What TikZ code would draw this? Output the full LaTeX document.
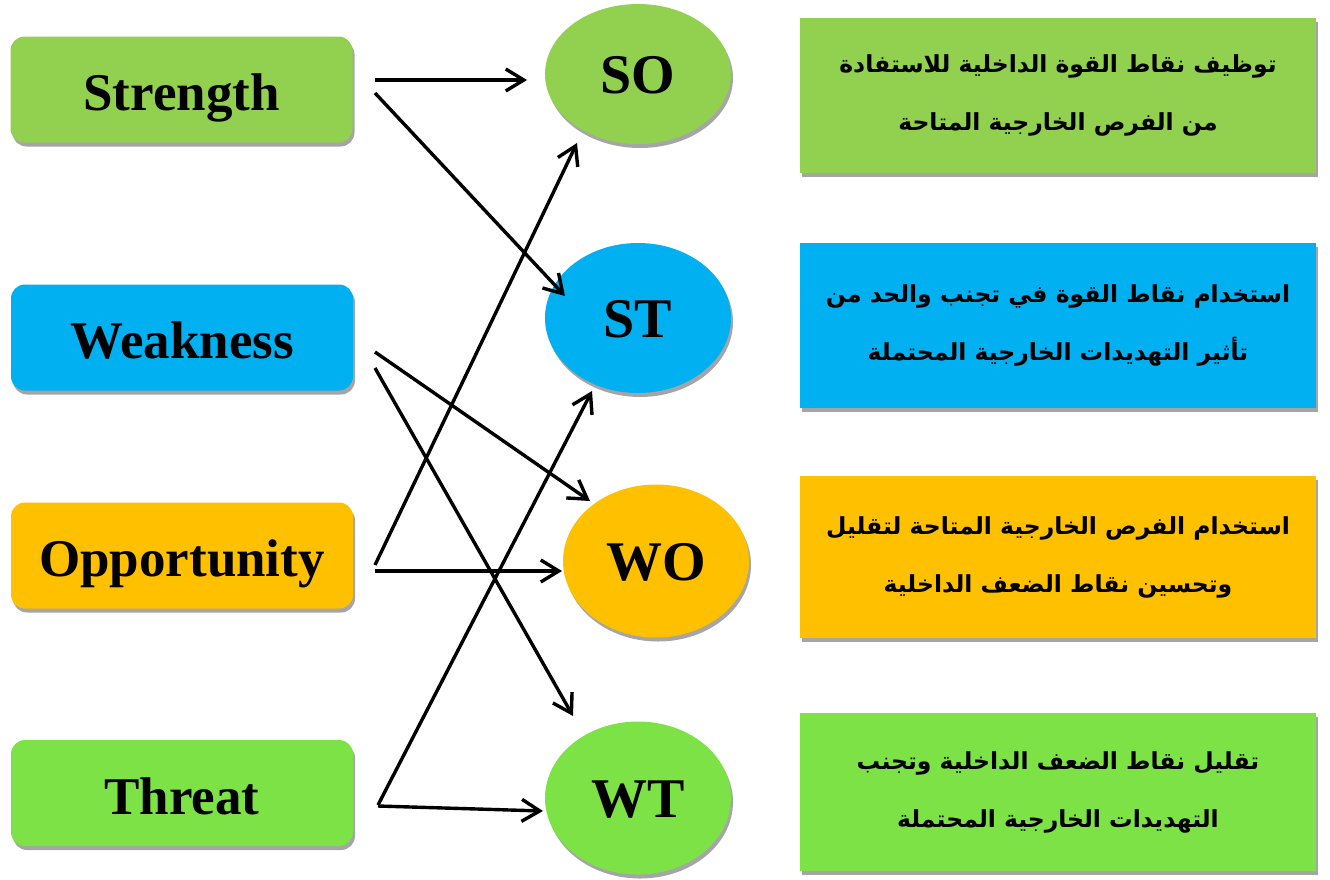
\documentclass[tikz,border=0pt]{standalone}
\usepackage{fontspec}
\setmainfont{Liberation Serif}
\newfontfamily\arabicfont[Script=Arabic]{DejaVu Sans}
\TeXXeTstate=1
\usetikzlibrary{shapes.geometric,shadows,arrows.meta}
\definecolor{cgreen}{RGB}{146,208,80}
\definecolor{cblue}{RGB}{0,176,240}
\definecolor{corange}{RGB}{255,192,0}
\definecolor{clime}{RGB}{124,226,70}
\tikzset{
  shad/.style={drop shadow={opacity=0.5,shadow xshift=2pt,shadow yshift=-4pt,fill=black!70}},
  lbox/.style={rectangle,rounded corners=14pt,minimum width=342pt,minimum height=106pt,inner sep=0pt,shad,
    text height=42pt,text depth=0pt,font=\fontsize{53}{60}\selectfont\bfseries},
  ebox/.style={ellipse,minimum width=186pt,inner sep=0pt,shad,
    text height=38pt,text depth=0pt,font=\fontsize{56}{60}\selectfont\bfseries},
  rbox/.style={rectangle,minimum width=516pt,minimum height=158pt,inner sep=0pt,shad,align=center,
    font=\arabicfont\bfseries\fontsize{23.5}{58}\selectfont},
  conn/.style={line width=3.4pt,-{Straight Barb[length=18pt,width=22pt,line width=3.4pt]}},
}
\begin{document}
\begin{tikzpicture}[x=1pt,y=-1pt]
\useasboundingbox (0,0) rectangle (1330,879);
% left boxes
\node[lbox,fill=cgreen] (S) at (181.5,89.5) {Strength};
\node[lbox,fill=cblue] (W) at (182,337.5) {Weakness};
\node[lbox,fill=corange] (O) at (182,555.5) {Opportunity};
\node[lbox,fill=clime] (T) at (182,793) {Threat};
% ellipses
\node[ebox,fill=cgreen,minimum height=140pt] (SO) at (638,74) {SO};
\node[ebox,fill=cblue,minimum height=150pt] (ST) at (638,318) {ST};
\node[ebox,fill=corange,minimum height=153pt] (WO) at (656,561) {WO};
\node[ebox,fill=clime,minimum height=153pt] (WT) at (638,798) {WT};
% right boxes
\node[rbox,fill=cgreen,minimum height=155pt] (SOt) at (1058,95.5)
  {\beginR توظيف نقاط القوة الداخلية للاستفادة\endR\\\beginR من الفرص الخارجية المتاحة\endR};
\node[rbox,fill=cblue,minimum height=165pt] (STt) at (1058,325.5)
  {\beginR استخدام نقاط القوة في تجنب والحد من\endR\\\beginR تأثير التهديدات الخارجية المحتملة\endR};
\node[rbox,fill=corange,minimum height=162pt] (WOt) at (1058,557)
  {\beginR استخدام الفرص الخارجية المتاحة لتقليل\endR\\\beginR وتحسين نقاط الضعف الداخلية\endR};
\node[rbox,fill=clime,minimum height=158pt] (WTt) at (1058,792)
  {\beginR تقليل نقاط الضعف الداخلية وتجنب\endR\\\beginR التهديدات الخارجية المحتملة\endR};
% connector ends
\coordinate (s1) at (375,80);  \coordinate (s1e) at (527,80);
\coordinate (s2) at (375,93);  \coordinate (s2e) at (565,296);
\coordinate (w1) at (375,352); \coordinate (w1e) at (590,501);
\coordinate (w2) at (375,368); \coordinate (w2e) at (573,716);
\coordinate (o1) at (375,565); \coordinate (o1e) at (577,143);
\coordinate (o2) at (375,571); \coordinate (o2e) at (562,571);
\coordinate (t1) at (378,805); \coordinate (t1e) at (592,391);
\coordinate (t2) at (378,806); \coordinate (t2e) at (543,811);
\draw[conn] (s1) -- (s1e);
\draw[conn] (s2) -- (s2e);
\draw[conn] (w1) -- (w1e);
\draw[conn] (w2) -- (w2e);
\draw[conn] (o1) -- (o1e);
\draw[conn] (o2) -- (o2e);
\draw[conn] (t1) -- (t1e);
\draw[conn] (t2) -- (t2e);
\end{tikzpicture}
\end{document}
